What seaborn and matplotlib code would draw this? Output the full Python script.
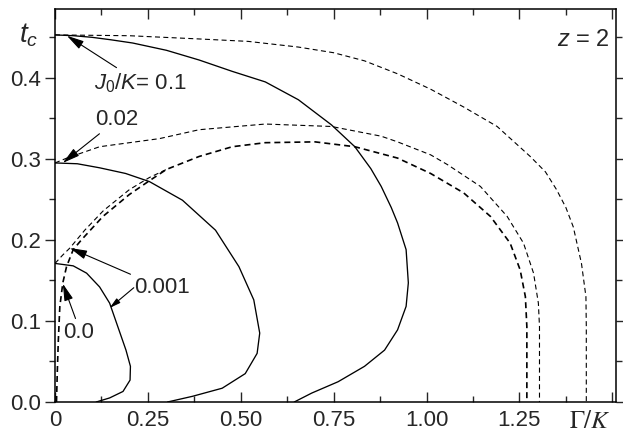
"""Phase boundaries t_c versus Gamma/K for z = 2 (solid and dashed branches)."""

import matplotlib

matplotlib.use("Agg")
import matplotlib.pyplot as plt
import seaborn as sns
from matplotlib.ticker import FixedLocator, MultipleLocator

# Solid branches (Gamma/K, t_c)
solid_01_g = [0.0, 0.05, 0.10, 0.15, 0.209, 0.30, 0.388, 0.477, 0.566, 0.655,
              0.744, 0.807, 0.850, 0.878, 0.905, 0.922, 0.945, 0.951, 0.945, 0.922,
              0.887, 0.833, 0.762, 0.691, 0.644]
solid_01_t = [0.453, 0.452, 0.450, 0.447, 0.443, 0.434, 0.422, 0.408, 0.395, 0.373,
              0.342, 0.315, 0.288, 0.266, 0.240, 0.221, 0.188, 0.147, 0.118, 0.089,
              0.064, 0.044, 0.025, 0.011, 0.0]

solid_002_g = [0.0, 0.06, 0.12, 0.19, 0.254, 0.343, 0.432, 0.495, 0.535, 0.551,
               0.544, 0.512, 0.45, 0.37, 0.303]
solid_002_t = [0.295, 0.294, 0.289, 0.282, 0.272, 0.249, 0.212, 0.167, 0.126, 0.085,
               0.060, 0.035, 0.017, 0.007, 0.0]

solid_0001_g = [0.0, 0.049, 0.085, 0.12, 0.147, 0.169, 0.191, 0.203, 0.202, 0.183,
                0.147, 0.111]
solid_0001_t = [0.171, 0.168, 0.159, 0.142, 0.122, 0.093, 0.064, 0.044, 0.027, 0.013,
                0.005, 0.0]

# Dashed branches
dash_01_g = [0.0, 0.20, 0.388, 0.52, 0.655, 0.75, 0.833, 0.922, 1.011, 1.10,
             1.19, 1.279, 1.32, 1.35, 1.375, 1.395, 1.417, 1.429, 1.43, 1.43]
dash_01_t = [0.453, 0.452, 0.448, 0.445, 0.438, 0.431, 0.421, 0.405, 0.386, 0.364,
             0.340, 0.303, 0.284, 0.262, 0.240, 0.216, 0.171, 0.130, 0.093, 0.0]

dash_002_g = [0.0, 0.032, 0.12, 0.281, 0.388, 0.566, 0.744, 0.878, 0.922, 1.011,
              1.056, 1.145, 1.217, 1.261, 1.288, 1.301, 1.304, 1.304]
dash_002_t = [0.295, 0.301, 0.315, 0.325, 0.336, 0.343, 0.340, 0.328, 0.321, 0.305,
              0.293, 0.266, 0.229, 0.196, 0.159, 0.122, 0.093, 0.0]

# the 0.001 dashed branch joins the 0.0 one near Gamma/K = 0.3;
# from there on both lie on top of each other (one heavier dashed line)
dash_0001_g = [0.0, 0.02, 0.04, 0.08, 0.13, 0.20, 0.254, 0.30]
dash_0001_t = [0.171, 0.181, 0.190, 0.212, 0.236, 0.262, 0.277, 0.287]

dash_00_g = [0.004, 0.006, 0.009, 0.013, 0.021, 0.031, 0.049, 0.071, 0.129, 0.20,
             0.254, 0.30, 0.388, 0.477, 0.566, 0.70, 0.807, 0.922, 1.011, 1.10,
             1.172, 1.225, 1.252, 1.266, 1.27, 1.27]
dash_00_t = [0.0, 0.035, 0.077, 0.118, 0.147, 0.167, 0.188, 0.200, 0.229, 0.256,
             0.273, 0.287, 0.303, 0.315, 0.320, 0.321, 0.315, 0.301, 0.282, 0.258,
             0.229, 0.196, 0.163, 0.130, 0.093, 0.0]

x_ticks = [0.0, 0.25, 0.50, 0.75, 1.00, 1.25, 1.50]
x_tick_labels = ["0", "0.25", "0.50", "0.75", "1.00", "1.25", ""]
y_ticks = [0.0, 0.1, 0.2, 0.3, 0.4]
y_tick_labels = ["0.0", "0.1", "0.2", "0.3", "0.4"]

sns.set_style("ticks")
plt.rcParams["font.family"] = ["Liberation Sans", "DejaVu Sans"]
plt.rcParams["mathtext.fontset"] = "custom"
plt.rcParams["mathtext.rm"] = "Liberation Sans"
plt.rcParams["mathtext.it"] = "Liberation Sans:italic"

fig = plt.figure(figsize=(6.23, 4.40), dpi=100)
ax = fig.add_axes([0.0883, 0.0864, 0.9005, 0.8932])

solid_style = dict(color="black", linewidth=0.95, sort=False, estimator=None)
thin_dash = dict(color="black", linewidth=0.8, sort=False, estimator=None,
                 linestyle=(0, (4.5, 3.0)))
thick_dash = dict(thin_dash, linewidth=1.2, linestyle=(0, (3.6, 2.4)))

for g, t in [(solid_01_g, solid_01_t), (solid_002_g, solid_002_t),
             (solid_0001_g, solid_0001_t)]:
    sns.lineplot(x=g, y=t, ax=ax, **solid_style)

sns.lineplot(x=dash_01_g, y=dash_01_t, ax=ax, **thin_dash)
sns.lineplot(x=dash_002_g, y=dash_002_t, ax=ax, **thin_dash)
sns.lineplot(x=dash_0001_g, y=dash_0001_t, ax=ax, **thin_dash)
sns.lineplot(x=dash_00_g, y=dash_00_t, ax=ax, **thick_dash)

ax.set_xlim(0, 1.51)
ax.set_ylim(0, 0.485)
ax.set_xlabel("")
ax.set_ylabel("")

ax.xaxis.set_major_locator(FixedLocator(x_ticks))
ax.set_xticklabels(x_tick_labels)
ax.xaxis.set_minor_locator(MultipleLocator(0.125))
ax.yaxis.set_major_locator(FixedLocator(y_ticks))
ax.set_yticklabels(y_tick_labels)
ax.yaxis.set_minor_locator(MultipleLocator(0.05))

ax.tick_params(axis="x", which="major", direction="in", length=7, width=1,
               labelsize=16, pad=6, top=True)
ax.tick_params(axis="x", which="minor", direction="in", length=4, width=1, top=True)
ax.tick_params(axis="y", which="major", direction="out", length=7, width=1,
               labelsize=16, pad=3)
ax.tick_params(axis="y", which="minor", direction="out", length=4, width=1)
ax.tick_params(axis="y", which="both", right=True)
for spine in ax.spines.values():
    spine.set_visible(True)
    spine.set_linewidth(1.1)
    spine.set_color("black")

# axis labels placed like the original figure
ax.text(-0.07, 0.453, "$t_c$", fontsize=20, ha="center", va="center", clip_on=False)
ax.text(1.44, -0.024, r"$\Gamma/K$", fontsize=18, ha="center", va="center",
        math_fontfamily="stix", clip_on=False)
ax.text(1.492, 0.447, "$z$ = 2", fontsize=17, ha="right", va="center")

arrow = dict(arrowstyle="-|>,head_length=0.65,head_width=0.17", color="black",
             linewidth=0.8, shrinkA=0, shrinkB=0)
ax.annotate("$J_0/K$= 0.1", xy=(0.032, 0.452), xytext=(0.104, 0.394),
            fontsize=16, va="center", arrowprops=arrow)
ax.annotate("0.02", xy=(0.021, 0.295), xytext=(0.108, 0.348),
            fontsize=16, va="center", arrowprops=arrow)
ax.annotate("0.001", xy=(0.04, 0.19), xytext=(0.212, 0.141),
            fontsize=16, va="center", arrowprops=arrow)
ax.annotate("", xy=(0.147, 0.116), xytext=(0.212, 0.141), arrowprops=arrow)
ax.annotate("0.0", xy=(0.021, 0.146), xytext=(0.021, 0.086),
            fontsize=16, va="center", arrowprops=dict(arrow, relpos=(0.45, 1.0)))

fig.savefig("out.png", dpi=100)
